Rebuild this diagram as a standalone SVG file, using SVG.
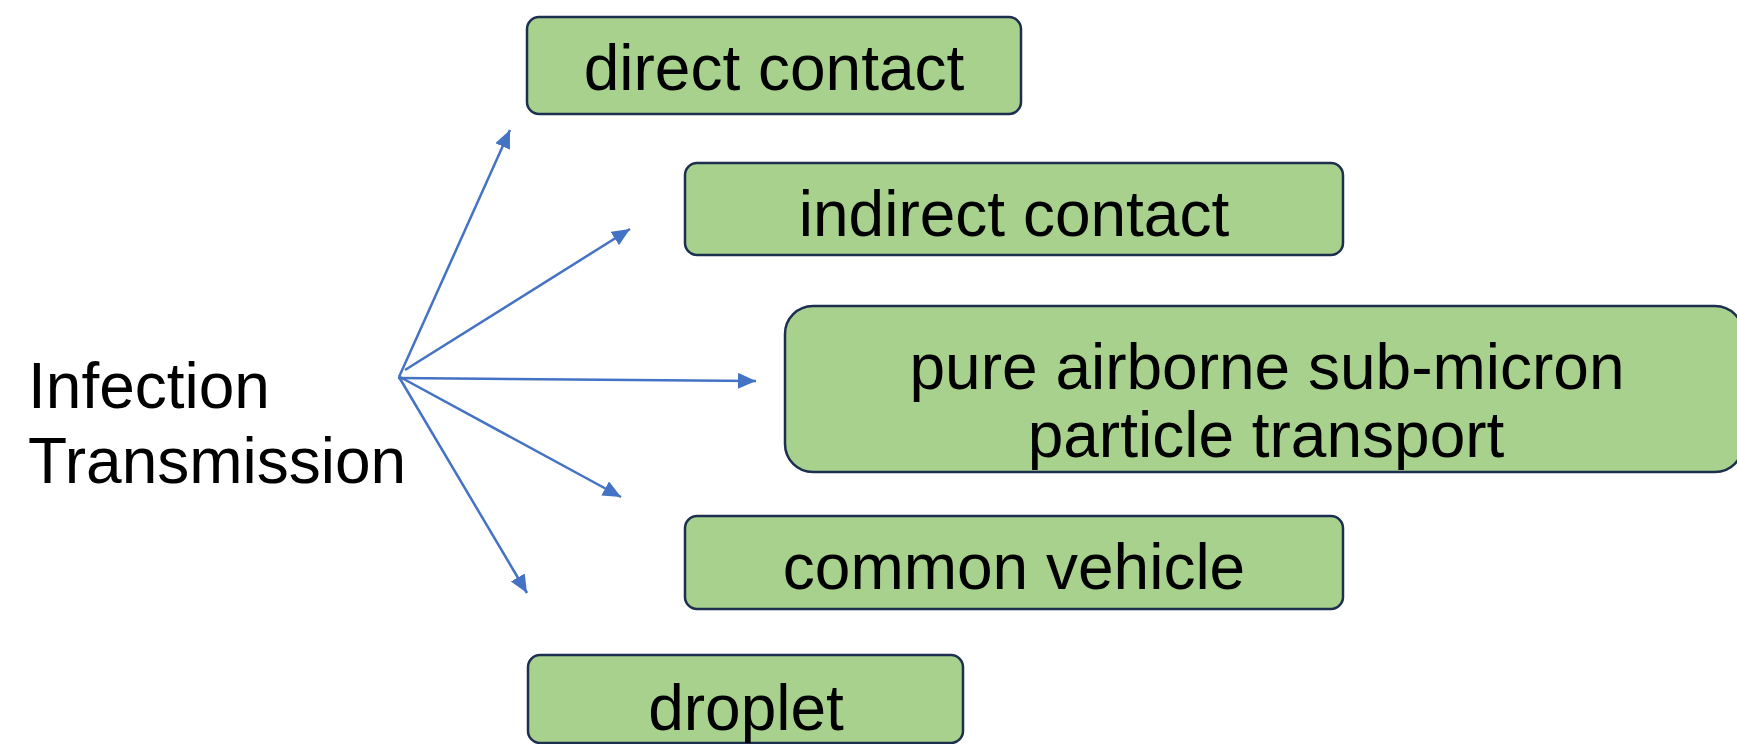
<svg xmlns="http://www.w3.org/2000/svg" width="1737" height="744" viewBox="0 0 1737 744">
<style>
.box{fill:#A9D18E;stroke:#1C2F4F;stroke-width:2.5}
.t{font-family:"Liberation Sans",Arial,sans-serif;font-size:64px;fill:#000}
.c{text-anchor:middle}
.arr{stroke:#4472C4;stroke-width:2.5;fill:none;marker-end:url(#ah)}
</style>
<defs>
<marker id="ah" markerUnits="userSpaceOnUse" markerWidth="20" markerHeight="18" refX="18" refY="8" orient="auto">
<path d="M0,0 L18,8 L0,16 z" fill="#4472C4"/>
</marker>
</defs>
<rect width="1737" height="744" fill="#fff"/>
<g id="source">
<text class="t" x="28" y="408">Infection</text>
<text class="t" x="28" y="483">Transmission</text>
</g>
<g id="connectors">
<line class="arr" x1="399" y1="377" x2="510" y2="130"/>
<line class="arr" x1="405" y1="370" x2="630" y2="229"/>
<line class="arr" x1="398" y1="378" x2="756" y2="381"/>
<line class="arr" x1="400" y1="377" x2="621" y2="497"/>
<line class="arr" x1="399" y1="377" x2="527" y2="593"/>
</g>
<g id="direct">
<rect class="box" x="527" y="17" width="494" height="97" rx="12"/>
<text class="t c" x="774" y="90">direct contact</text>
</g>
<g id="indirect">
<rect class="box" x="685" y="163" width="658" height="92" rx="12"/>
<text class="t c" x="1014" y="236">indirect contact</text>
</g>
<g id="airborne">
<rect class="box" x="785" y="306" width="958" height="166" rx="28"/>
<text class="t c" x="1267" y="389">pure airborne sub-micron</text>
<text class="t c" x="1266" y="457">particle transport</text>
</g>
<g id="vehicle">
<rect class="box" x="685" y="516" width="658" height="93" rx="12"/>
<text class="t c" x="1014" y="589">common vehicle</text>
</g>
<g id="droplet">
<rect class="box" x="528" y="655" width="435" height="88" rx="12"/>
<text class="t c" x="746" y="730">droplet</text>
</g>
</svg>
